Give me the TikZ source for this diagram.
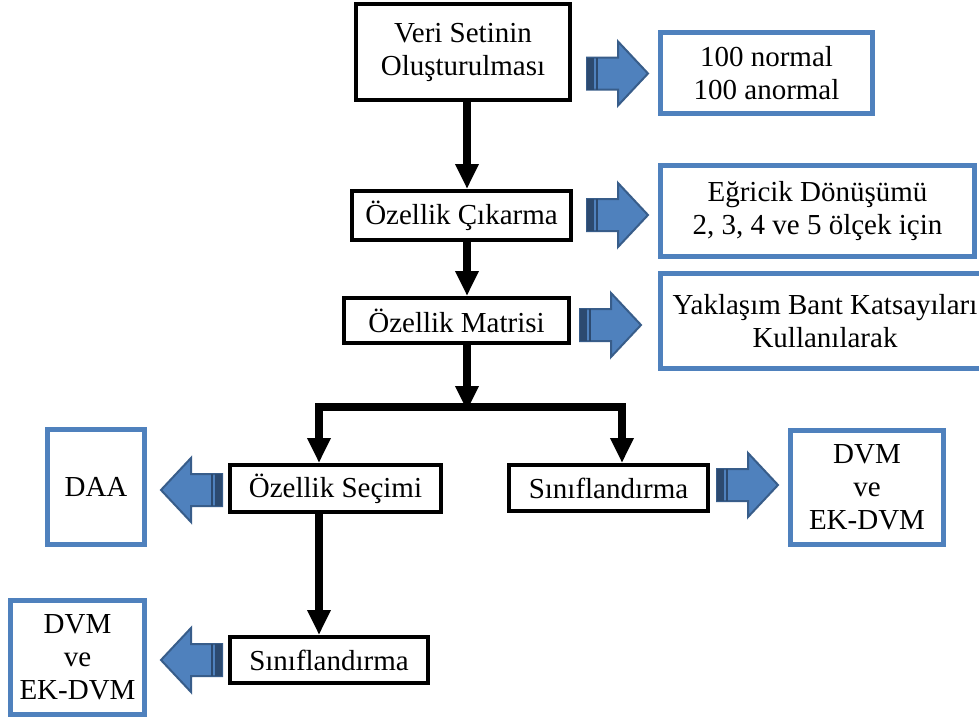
\documentclass[tikz,border=0pt]{standalone}
\usepackage{fontspec}
\setmainfont{Liberation Serif}
\usetikzlibrary{arrows.meta}

\definecolor{boxblue}{HTML}{4F81BD}
\definecolor{arrowedge}{HTML}{385D8A}
\definecolor{arrowtail}{HTML}{2C4A70}

\tikzset{
  stepbox/.style={draw=black, line width=4pt, fill=white, inner sep=0pt, align=center,
    font=\fontsize{29}{33}\selectfont},
  infobox/.style={draw=boxblue, line width=4.5pt, fill=white, inner sep=0pt, align=center,
    font=\fontsize{29}{33}\selectfont},
  flow/.style={line width=8pt, -{Triangle[width=22pt,length=25pt]}},
}

% fat blue arrow: tail x, mid y, direction (1 right, -1 left)
\newcommand{\fatarrow}[3]{%
  \begin{scope}[shift={(#1,#2)}, xscale=#3]
    \filldraw[fill=boxblue, draw=arrowedge, line width=2pt, line join=miter]
      (0,-16) -- (31,-16) -- (31,-32) -- (61,0) -- (31,32) -- (31,16) -- (0,16) -- cycle;
    \fill[arrowtail] (0,-16) rectangle (7,16);
    \draw[arrowtail, line width=1.2pt] (10,-16) -- (10,16);
  \end{scope}}

\begin{document}
\begin{tikzpicture}[x=1pt, y=-1pt]
  \path[use as bounding box, clip] (0,0) rectangle (979,720);
  \fill[white] (0,0) rectangle (979,720);

  \coordinate (axis) at (467,0);
  \coordinate (lane) at (319,0);
  \coordinate (split) at (467,407);
  \coordinate (splitR) at (622,407);

  % main steps
  \node[stepbox, minimum width=214pt, minimum height=96pt] (veri) at (463,52)
    {Veri Setinin\\Oluşturulması};
  \node[stepbox, minimum width=219pt, minimum height=49pt] (cikarma) at (461.5,215.5)
    {Özellik Çıkarma};
  \node[stepbox, minimum width=225pt, minimum height=45pt] (matris) at (456.5,320.5)
    {Özellik Matrisi};
  \node[stepbox, minimum width=211pt, minimum height=47pt] (secim) at (335.5,488.5)
    {Özellik Seçimi};
  \node[stepbox, minimum width=199pt, minimum height=46pt] (sinif) at (608.5,488)
    {Sınıflandırma};
  \node[stepbox, minimum width=198pt, minimum height=46pt] (sinifB) at (329,660)
    {Sınıflandırma};

  % side notes
  \node[infobox, minimum width=212pt, minimum height=81pt] (veriler) at (766.5,73)
    {100 normal\\100 anormal};
  \node[infobox, minimum width=314pt, minimum height=91pt] (egricik) at (817.5,211)
    {Eğricik Dönüşümü\\2, 3, 4 ve 5 ölçek için};
  \node[infobox, minimum width=329pt, minimum height=95pt] (yaklasim) at (825,321)
    {Yaklaşım Bant Katsayıları\\Kullanılarak};
  \node[infobox, minimum width=97pt, minimum height=115pt] (daa) at (96,487)
    {DAA};
  \node[infobox, minimum width=153pt, minimum height=114pt] (dvm) at (867,487.5)
    {DVM\\ve\\EK-DVM};
  \node[infobox, minimum width=134pt, minimum height=114pt] (dvmB) at (77.5,657.5)
    {DVM\\ve\\EK-DVM};

  % black flow arrows
  \draw[flow] (veri.south -| axis) -- (cikarma.north -| axis);
  \draw[flow] (cikarma.south -| axis) -- (matris.north -| axis);
  \draw[flow] (matris.south -| axis) -- ([yshift=-4pt]split);
  \draw[line width=8pt, line join=miter, {Triangle[width=22pt,length=25pt]}-{Triangle[width=22pt,length=25pt]}]
    (secim.north -| lane) -- (split -| lane) -- (splitR) -- (sinif.north -| splitR);
  \draw[flow] (secim.south -| lane) -- (sinifB.north -| lane);

  % blue arrows to the notes
  \fatarrow{587}{73.5}{1}
  \fatarrow{587}{215}{1}
  \fatarrow{580}{325}{1}
  \fatarrow{717}{485}{1}
  \fatarrow{222}{490}{-1}
  \fatarrow{222}{660}{-1}
\end{tikzpicture}
\end{document}
